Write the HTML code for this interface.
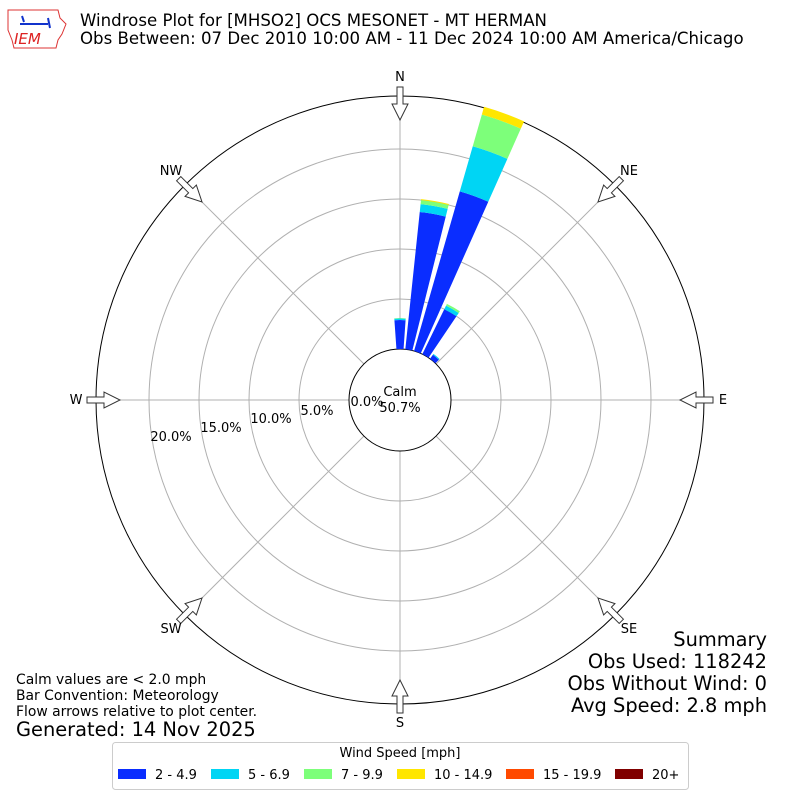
<!DOCTYPE html>
<html><head><style>
body{margin:0;background:#fff;}
svg text{font-family:"DejaVu Sans","Liberation Sans",sans-serif;}
</style></head><body>
<svg width="800" height="800" xmlns="http://www.w3.org/2000/svg">
<rect width="800" height="800" fill="#fff"/>
<path d="M8 10 L58 10 L60 18 L66 24 L62 34 L58 40 L56 48 L14 48 L12 40 L8 30 Z" fill="none" stroke="#d33" stroke-width="1"/>
<path d="M20 24 L48 24 M48 18 L50 28 M22 16 L24 22" stroke="#1133cc" stroke-width="2" fill="none"/>
<text x="14" y="44" font-family="Liberation Serif" font-style="italic" font-size="15" fill="#d22">IEM</text>
<text x="80" y="26" font-size="16.6">Windrose Plot for [MHSO2] OCS MESONET - MT HERMAN</text>
<text x="80" y="44" font-size="16.6">Obs Between: 07 Dec 2010 10:00 AM - 11 Dec 2024 10:00 AM America/Chicago</text>
<g transform="translate(400,400)">
<g fill="none" stroke="#b0b0b0" stroke-width="1">
<circle r="101"/><circle r="151"/><circle r="201"/><circle r="251"/>
<line x1="0" y1="-51" x2="0" y2="-304"/><line x1="0" y1="51" x2="0" y2="304"/>
<line x1="-51" y1="0" x2="-304" y2="0"/><line x1="51" y1="0" x2="304" y2="0"/>
<line x1="36" y1="-36" x2="215" y2="-215"/><line x1="-36" y1="-36" x2="-215" y2="-215"/>
<line x1="36" y1="36" x2="215" y2="215"/><line x1="-36" y1="36" x2="-215" y2="215"/>
</g>
<circle r="304" fill="none" stroke="#000" stroke-width="1"/>
<circle r="51" fill="#fff" stroke="#000" stroke-width="1"/>
<g>
<path d="M-3.56,-50.88 L-5.58,-79.81 A80 80 0 0 1 5.58,-79.81 L3.56,-50.88 A51 51 0 0 0 -3.56,-50.88Z" fill="#0a2dff"/>
<path d="M-5.58,-79.81 L-5.69,-81.3 A81.5 81.5 0 0 1 5.69,-81.3 L5.58,-79.81 A80 80 0 0 0 -5.58,-79.81Z" fill="#00d5f4"/>
<path d="M-5.69,-81.3 L-5.72,-81.8 A82 82 0 0 1 5.72,-81.8 L5.69,-81.3 A81.5 81.5 0 0 0 -5.69,-81.3Z" fill="#7dff7a"/>
</g>
<g transform="rotate(10)">
<path d="M-3.56,-50.88 L-13.19,-188.55 A189 189 0 0 1 13.19,-188.55 L3.56,-50.88 A51 51 0 0 0 -3.56,-50.88Z" fill="#0a2dff"/>
<path d="M-13.19,-188.55 L-13.75,-196.53 A197 197 0 0 1 13.75,-196.53 L13.19,-188.55 A189 189 0 0 0 -13.19,-188.55Z" fill="#00d5f4"/>
<path d="M-13.75,-196.53 L-14.03,-200.52 A201 201 0 0 1 14.03,-200.52 L13.75,-196.53 A197 197 0 0 0 -13.75,-196.53Z" fill="#7dff7a"/>
<path d="M-14.03,-200.52 L-14.1,-201.52 A202 202 0 0 1 14.1,-201.52 L14.03,-200.52 A201 201 0 0 0 -14.03,-200.52Z" fill="#ffe600"/>
</g>
<g transform="rotate(20)">
<path d="M-3.56,-50.88 L-15.15,-216.48 A217 217 0 0 1 15.15,-216.48 L3.56,-50.88 A51 51 0 0 0 -3.56,-50.88Z" fill="#0a2dff"/>
<path d="M-15.15,-216.48 L-18.43,-263.37 A264 264 0 0 1 18.43,-263.37 L15.15,-216.48 A217 217 0 0 0 -15.15,-216.48Z" fill="#00d5f4"/>
<path d="M-18.43,-263.37 L-20.73,-296.29 A297 297 0 0 1 20.73,-296.29 L18.43,-263.37 A264 264 0 0 0 -18.43,-263.37Z" fill="#7dff7a"/>
<path d="M-20.73,-296.29 L-21.29,-304.27 A305 305 0 0 1 21.29,-304.27 L20.73,-296.29 A297 297 0 0 0 -20.73,-296.29Z" fill="#ffe600"/>
</g>
<g transform="rotate(30)">
<path d="M-3.56,-50.88 L-7.05,-100.76 A101 101 0 0 1 7.05,-100.76 L3.56,-50.88 A51 51 0 0 0 -3.56,-50.88Z" fill="#0a2dff"/>
<path d="M-7.05,-100.76 L-7.33,-104.75 A105 105 0 0 1 7.33,-104.75 L7.05,-100.76 A101 101 0 0 0 -7.05,-100.76Z" fill="#00d5f4"/>
<path d="M-7.33,-104.75 L-7.47,-106.74 A107 107 0 0 1 7.47,-106.74 L7.33,-104.75 A105 105 0 0 0 -7.33,-104.75Z" fill="#7dff7a"/>
</g>
<g transform="rotate(40)">
<path d="M-3.56,-50.88 L-3.91,-55.87 A56 56 0 0 1 3.91,-55.87 L3.56,-50.88 A51 51 0 0 0 -3.56,-50.88Z" fill="#0a2dff"/>
<path d="M-3.91,-55.87 L-3.98,-56.86 A57 57 0 0 1 3.98,-56.86 L3.91,-55.87 A56 56 0 0 0 -3.91,-55.87Z" fill="#00d5f4"/>
</g>
<g fill="#fff" stroke="#333" stroke-width="1">
<path transform="rotate(0) translate(0,-304)" d="M-3,-9 L3,-9 L3,8 L8,8 L0,24 L-8,8 L-3,8 Z"/>
<path transform="rotate(45) translate(0,-304)" d="M-3,-9 L3,-9 L3,8 L8,8 L0,24 L-8,8 L-3,8 Z"/>
<path transform="rotate(90) translate(0,-304)" d="M-3,-9 L3,-9 L3,8 L8,8 L0,24 L-8,8 L-3,8 Z"/>
<path transform="rotate(135) translate(0,-304)" d="M-3,-9 L3,-9 L3,8 L8,8 L0,24 L-8,8 L-3,8 Z"/>
<path transform="rotate(180) translate(0,-304)" d="M-3,-9 L3,-9 L3,8 L8,8 L0,24 L-8,8 L-3,8 Z"/>
<path transform="rotate(225) translate(0,-304)" d="M-3,-9 L3,-9 L3,8 L8,8 L0,24 L-8,8 L-3,8 Z"/>
<path transform="rotate(270) translate(0,-304)" d="M-3,-9 L3,-9 L3,8 L8,8 L0,24 L-8,8 L-3,8 Z"/>
<path transform="rotate(315) translate(0,-304)" d="M-3,-9 L3,-9 L3,8 L8,8 L0,24 L-8,8 L-3,8 Z"/>
</g>
</g>
<g font-size="13" text-anchor="middle">
<text x="400" y="396">Calm</text><text x="400" y="412">50.7%</text>
<text x="367" y="406">0.0%</text>
<text x="317" y="415">5.0%</text><text x="271" y="423">10.0%</text>
<text x="221" y="432">15.0%</text><text x="171" y="441">20.0%</text>
<text x="400" y="81">N</text><text x="629" y="175">NE</text><text x="723" y="404">E</text>
<text x="629" y="633">SE</text><text x="400" y="727">S</text><text x="171" y="633">SW</text>
<text x="76" y="404">W</text><text x="171" y="175">NW</text>
</g>
<g font-size="19.4" text-anchor="end">
<text x="767" y="646">Summary</text>
<text x="767" y="668">Obs Used: 118242</text>
<text x="767" y="690">Obs Without Wind: 0</text>
<text x="767" y="712">Avg Speed: 2.8 mph</text>
</g>
<g font-size="13.9">
<text x="16" y="684">Calm values are &lt; 2.0 mph</text>
<text x="16" y="700">Bar Convention: Meteorology</text>
<text x="16" y="716">Flow arrows relative to plot center.</text>
<text x="16" y="736" font-size="19.4">Generated: 14 Nov 2025</text>
</g>
<rect x="112.5" y="742.5" width="576" height="47" rx="3" fill="#fff" stroke="#ccc"/>
<text x="400" y="757" font-size="13" text-anchor="middle">Wind Speed [mph]</text>
<g font-size="13">
<rect x="118" y="769" width="28" height="10" fill="#0a2dff"/><text x="155" y="779">2 - 4.9</text>
<rect x="211" y="769" width="28" height="10" fill="#00d5f4"/><text x="248" y="779">5 - 6.9</text>
<rect x="304" y="769" width="28" height="10" fill="#7dff7a"/><text x="341" y="779">7 - 9.9</text>
<rect x="397" y="769" width="28" height="10" fill="#ffe600"/><text x="434" y="779">10 - 14.9</text>
<rect x="506" y="769" width="28" height="10" fill="#ff4a00"/><text x="543" y="779">15 - 19.9</text>
<rect x="615" y="769" width="28" height="10" fill="#800000"/><text x="652" y="779">20+</text>
</g>
</svg>
</body></html>
